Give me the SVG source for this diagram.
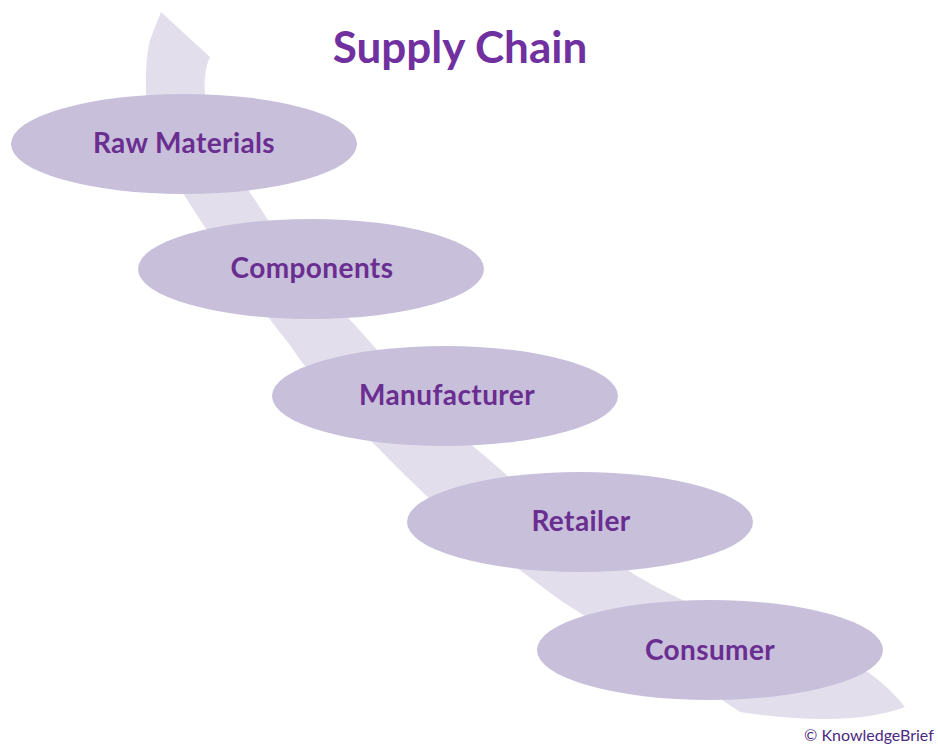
<svg xmlns="http://www.w3.org/2000/svg" width="938" height="744" viewBox="0 0 938 744">
<style>
.node ellipse{fill:#c8bfdb}
.lbl{font-family:Lato,"Open Sans",sans-serif;font-weight:bold;font-size:28px;letter-spacing:0.4px;fill:#6a2d90;text-anchor:middle}
.title{font-family:Lato,"Open Sans",sans-serif;font-weight:bold;font-size:44px;fill:#7030a0;text-anchor:middle}
.copy{font-family:Lato,"Open Sans",sans-serif;font-size:16px;fill:#4b2a80}
</style>
<rect width="938" height="744" fill="#ffffff"/>
<g id="connectors">
<path d="M161,12 L210,57 Q203,72 205,95 C215,140 235,170 255,200 C290,255 320,290 355,325 C395,370 430,410 480,452 C530,495 570,530 635,575 C720,625 820,650 868,672 Q890,688 905,707 Q850,728 740,712 C680,670 620,640 560,600 C500,555 450,520 410,480 C360,430 320,390 290,345 C250,295 220,250 195,212 C165,165 148,135 146,95 Q145,60 150,40 Z" fill="#e2deec"/>
</g>
<text class="title" x="460" y="63">Supply Chain</text>
<g id="n1" class="node"><ellipse cx="184" cy="144" rx="173" ry="50"/><text class="lbl" x="184" y="153">Raw Materials</text></g>
<g id="n2" class="node"><ellipse cx="311" cy="269" rx="173" ry="50"/><text class="lbl" x="312" y="278">Components</text></g>
<g id="n3" class="node"><ellipse cx="445" cy="396" rx="173" ry="50"/><text class="lbl" x="447" y="405">Manufacturer</text></g>
<g id="n4" class="node"><ellipse cx="580" cy="522" rx="173" ry="50"/><text class="lbl" x="581" y="531">Retailer</text></g>
<g id="n5" class="node"><ellipse cx="710" cy="650" rx="173" ry="50"/><text class="lbl" x="710" y="660">Consumer</text></g>
<text class="copy" x="804" y="741">© KnowledgeBrief</text>
</svg>
